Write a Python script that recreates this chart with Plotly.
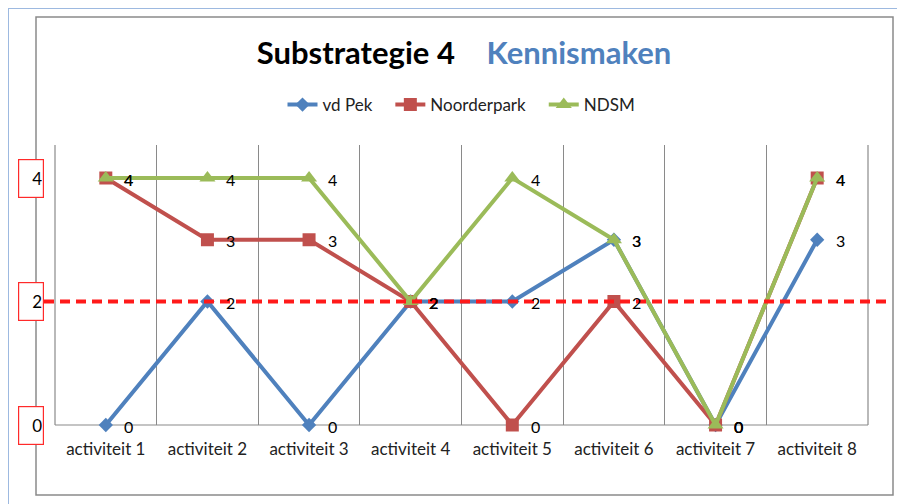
import plotly.graph_objects as go

categories = ["activiteit 1", "activiteit 2", "activiteit 3", "activiteit 4",
              "activiteit 5", "activiteit 6", "activiteit 7", "activiteit 8"]
vd_pek = [0, 2, 0, 2, 2, 3, 0, 3]
noorderpark = [4, 3, 3, 2, 0, 2, 0, 4]
ndsm = [4, 4, 4, 2, 4, 3, 0, 4]
y_ticks = [0, 2, 4]
threshold = 2

series = [
    ("vd Pek", vd_pek, "#4F81BD", "diamond", 11),
    ("Noorderpark", noorderpark, "#C0504D", "square", 13),
    ("NDSM", ndsm, "#9BBB59", "triangle-up", 14),
]

# The page body has an 8px margin, so the figure is drawn from (8, 8).
OFF = 8
FIG_W, FIG_H = 905 - OFF, 504 - OFF
# plot-area geometry (page pixels) for decorations
L, R, T, B = 55, 868, 145, 425
W, H = R - L, B - T
def px(x):
    return (x - L) / W
def py(y):
    return (B - y) / H

FONT = "Lato"
NB = "\u00a0"
xs = list(range(1, len(categories) + 1))

fig = go.Figure()
for name, vals, color, sym, size in series:
    fig.add_trace(go.Scatter(
        x=xs, y=vals, name=name + NB * 3, mode="lines+markers",
        line=dict(color=color, width=4),
        marker=dict(symbol=sym, size=size, color=color, line=dict(width=0)),
        cliponaxis=False,
    ))

annotations = []
for name, vals, color, sym, size in series:
    for xv, v in zip(xs, vals):
        annotations.append(dict(
            x=xv, y=v, xref="x", yref="y", text=str(v), showarrow=False,
            xshift=23, yshift=-1, font=dict(family=FONT, size=16, color="#000000"),
        ))

for v in y_ticks:
    annotations.append(dict(
        x=px(44), y=v, xref="paper", yref="y", text=str(v), showarrow=False,
        xanchor="right", yanchor="middle", align="right",
        width=22, height=35, borderpad=1, borderwidth=1.2,
        bordercolor="#FF2A2A", bgcolor="white",
        font=dict(family=FONT, size=17, color="#000000"),
    ))

shapes = [
    # outer blue frame
    dict(type="rect", xref="paper", yref="paper",
         x0=px(8), x1=px(903), y0=py(510), y1=py(8),
         line=dict(color="#9DB9E0", width=2), layer="below"),
    # chart area border
    dict(type="rect", xref="paper", yref="paper",
         x0=px(36), x1=px(893), y0=py(495), y1=py(17),
         line=dict(color="#8A8A8A", width=1.5), layer="below"),
    # plot-area left / right / bottom borders
    dict(type="line", xref="paper", yref="paper", x0=0, x1=0, y0=0, y1=1,
         line=dict(color="#8A8A8A", width=1.2), layer="below"),
    dict(type="line", xref="paper", yref="paper", x0=1, x1=1, y0=0, y1=1,
         line=dict(color="#8A8A8A", width=1.2), layer="below"),
    dict(type="line", xref="paper", yref="paper", x0=0, x1=1, y0=0, y1=0,
         line=dict(color="#8A8A8A", width=1.2), layer="below"),
    # threshold dashed line
    dict(type="line", xref="paper", yref="y", x0=px(44), x1=px(890),
         y0=threshold, y1=threshold,
         line=dict(color="#FF1A1A", width=4, dash="10px,6px"), layer="above"),
]

fig.update_layout(
    width=FIG_W, height=FIG_H,
    margin=dict(l=L - OFF, r=905 - R, t=T - OFF, b=504 - B),
    paper_bgcolor="white", plot_bgcolor="white",
    font=dict(family=FONT, size=13, color="#222222"),
    title=dict(
        text="<b>Substrategie 4</b>" + NB * 4 + "<span style='color:#4F81BD'><b>Kennismaken</b></span>",
        x=(464 - OFF) / FIG_W, xanchor="center", y=1 - (53 - OFF) / FIG_H, yanchor="middle",
        font=dict(family=FONT, size=31, color="#000000"),
    ),
    legend=dict(
        orientation="h", x=px(468), xanchor="center", y=py(105), yanchor="middle",
        font=dict(family=FONT, size=17, color="#222222"),
        bgcolor="rgba(0,0,0,0)",
    ),
    xaxis=dict(
        range=[0.5, len(categories) + 0.5], tickvals=xs, ticktext=categories,
        showgrid=False, zeroline=False, showline=False, ticks="",
        ticklabelstandoff=12,
        tickfont=dict(family=FONT, size=17, color="#222222"),
        minor=dict(tickvals=[i + 0.5 for i in range(len(categories) + 1)],
                   showgrid=True, gridcolor="#8A8A8A", gridwidth=1.2),
    ),
    yaxis=dict(
        range=[0, 4 * H / (B - 178)], showgrid=False, zeroline=False,
        showline=False, showticklabels=False, ticks="",
    ),
    annotations=annotations,
    shapes=shapes,
    showlegend=True,
)

fig.write_html("out.html")
